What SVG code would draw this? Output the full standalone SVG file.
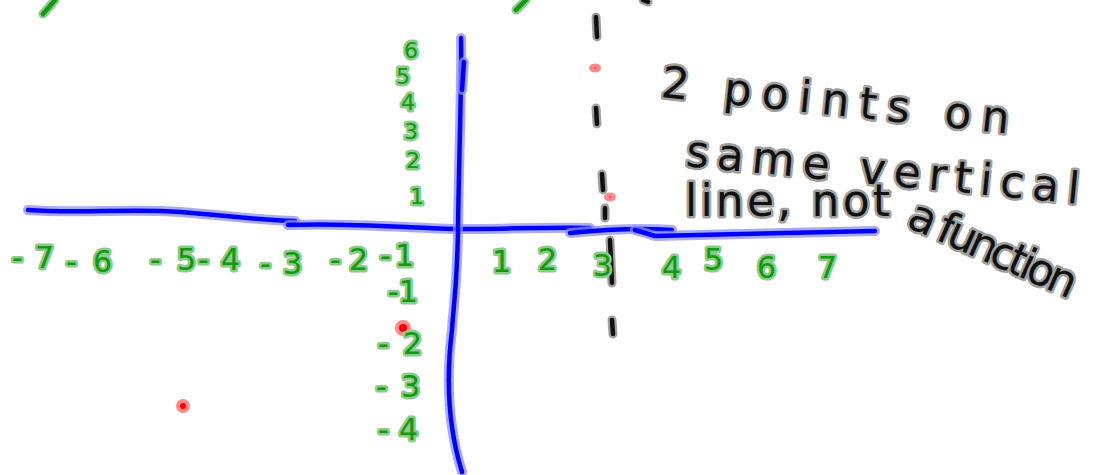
<svg xmlns="http://www.w3.org/2000/svg" width="1099" height="475" viewBox="0 0 1099 475">
<style>
.bl{fill:none;stroke:#0000ff;stroke-width:4.5;stroke-linecap:round;stroke-linejoin:round}
.blh{fill:none;stroke:#8c8cff;stroke-width:10;stroke-linecap:round;stroke-linejoin:round;opacity:.75}
.dk{fill:none;stroke:#111;stroke-width:4.5;stroke-linecap:round}
.dkh{fill:none;stroke:#a0a0a0;stroke-width:9;stroke-linecap:round}
.gs{fill:none;stroke:#119911;stroke-width:4.5;stroke-linecap:round;stroke-linejoin:round}
.gsh{fill:none;stroke:#88cc88;stroke-width:9;stroke-linecap:round;stroke-linejoin:round}
.g{font-family:"DejaVu Sans",sans-serif;fill:#119911;stroke:#88cc88;stroke-width:5;paint-order:stroke;stroke-linejoin:round;font-size:30px}
.gy{font-size:22px}
.k{font-family:"DejaVu Sans",sans-serif;fill:#111;stroke:#a0a0a0;stroke-width:5;paint-order:stroke;stroke-linejoin:round;font-size:44px}
.dot{fill:#ff0000;stroke:#ff8888;stroke-width:4}
</style>
<g id="partial-strokes">
<path class="gsh" d="M43,14 Q50,6 55,0"/><path class="gs" d="M43,14 Q50,6 55,0"/>
<path class="gsh" d="M516,10 Q522,4 526,0"/><path class="gs" d="M516,10 Q522,4 526,0"/>
<path class="dkh" d="M643,0 L648,2"/><path class="dk" d="M643,0 L648,2"/>
</g>
<g id="connectors">
<g id="x-axis">
<path class="blh" d="M28,210 C80,214 130,208 180,212 S260,220 295,221"/>
<path class="bl" d="M28,210 C80,214 130,208 180,212 S260,220 295,221"/>
<path class="blh" d="M288,225 C350,222 420,229 460,229 S560,227 590,228"/>
<path class="bl" d="M288,225 C350,222 420,229 460,229 S560,227 590,228"/>
<path class="blh" d="M570,233 C600,230 640,228 672,230"/>
<path class="bl" d="M570,233 C600,230 640,228 672,230"/>
<path class="blh" d="M635,230 L655,236 C700,235 780,233 875,231"/>
<path class="bl" d="M635,230 L655,236 C700,235 780,233 875,231"/>
</g>
<g id="y-axis">
<path class="blh" d="M461,38 C462,80 459,150 458,230 C457,290 453,310 452,330 C447,370 446,420 462,472"/>
<path class="bl" d="M461,38 C462,80 459,150 458,230 C457,290 453,310 452,330 C447,370 446,420 462,472"/>
<path class="blh" d="M464,62 L462,90"/><path class="bl" d="M464,62 L462,90"/>
</g>
<g id="dashed-vertical">
<path class="dkh" d="M596,17 L597,37 M596,108 L597,124 M602,174 L603,190 M605,208 L605,218 M610,240 L612,283 M612,320 L613,334"/>
<path class="dk" d="M596,17 L597,37 M596,108 L597,124 M602,174 L603,190 M605,208 L605,218 M610,240 L612,283 M612,320 L613,334"/>
</g>
</g>
<g id="points">
<ellipse class="dot" cx="595" cy="68" rx="4" ry="2.5"/>
<ellipse class="dot" cx="610" cy="197" rx="4" ry="2.5"/>
<circle class="dot" cx="403" cy="328" r="6"/>
<circle class="dot" cx="183" cy="406" r="5"/>
</g>
<g id="x-labels">
<text class="g" x="12" y="268" textLength="42" lengthAdjust="spacing">-7</text>
<text class="g" x="66" y="272" textLength="46" lengthAdjust="spacing">-6</text>
<text class="g" x="150" y="270" textLength="46" lengthAdjust="spacing">-5</text>
<text class="g" x="198" y="270" textLength="42" lengthAdjust="spacing">-4</text>
<text class="g" x="260" y="274" textLength="42" lengthAdjust="spacing">-3</text>
<text class="g" x="330" y="270" textLength="38" lengthAdjust="spacing">-2</text>
<text class="g" x="380" y="266" textLength="34" lengthAdjust="spacing">-1</text>
<text class="g" x="492" y="272">1</text>
<text class="g" x="538" y="270">2</text>
<text class="g" x="593" y="276">3</text>
<text class="g" x="662" y="278">4</text>
<text class="g" x="704" y="270">5</text>
<text class="g" x="757" y="278">6</text>
<text class="g" x="818" y="278">7</text>
</g>
<g id="y-labels">
<text class="g gy" x="404" y="58">6</text>
<text class="g gy" x="396" y="84">5</text>
<text class="g gy" x="401" y="110">4</text>
<text class="g gy" x="404" y="139">3</text>
<text class="g gy" x="406" y="168">2</text>
<text class="g gy" x="410" y="204">1</text>
<text class="g" x="388" y="302">-1</text>
<text class="g" x="378" y="354" textLength="44" lengthAdjust="spacing">-2</text>
<text class="g" x="376" y="397" textLength="44" lengthAdjust="spacing">-3</text>
<text class="g" x="378" y="440" textLength="40" lengthAdjust="spacing">-4</text>
</g>
<g id="note">
<text class="k" transform="translate(660,97) rotate(6)" textLength="350" lengthAdjust="spacing">2 points on</text>
<text class="k" transform="translate(685,166) rotate(5.5)" textLength="395" lengthAdjust="spacing">same vertical</text>
<text class="k" x="685" y="216" textLength="205" lengthAdjust="spacing">line, not</text>
<text class="k" transform="translate(905,226) rotate(24)" textLength="180" lengthAdjust="spacing">a function</text>
</g>
</svg>
